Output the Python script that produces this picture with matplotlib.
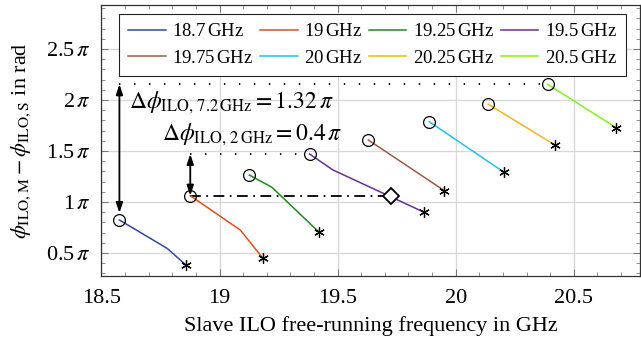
import matplotlib
matplotlib.use("Agg")
import matplotlib.pyplot as plt
from matplotlib.ticker import MultipleLocator, FuncFormatter

plt.rcParams['font.family'] = ['Liberation Serif', 'DejaVu Serif']
plt.rcParams['mathtext.fontset'] = 'stix'

# master ILO frequencies (legend) and colours
labels = ['18.7', '19', '19.25', '19.5', '19.75', '20', '20.25', '20.5']
colors = ['#2f4a9c', '#d9531e', '#1c8c1c', '#6a2c9c',
          '#9c5a46', '#22c1f2', '#f5b21e', '#84f01e']

# slave free-running frequency in GHz / phase difference in units of pi
freq = [
    [18.576, 18.778, 18.858],
    [18.876, 19.088, 19.182],
    [19.126, 19.222, 19.422],
    [19.381, 19.480, 19.867],
    [19.630, 19.952],
    [19.888, 20.205],
    [20.138, 20.420],
    [20.389, 20.680],
]
phase = [
    [0.824, 0.546, 0.382],
    [1.062, 0.725, 0.454],
    [1.265, 1.144, 0.703],
    [1.471, 1.314, 0.899],
    [1.608, 1.111],
    [1.787, 1.291],
    [1.958, 1.559],
    [2.154, 1.728],
]
diamond_x = 19.725

fig = plt.figure(figsize=(6.41, 3.43), dpi=100)
ax = fig.add_axes([0.1583, 0.1953, 0.840, 0.790])

handles = []
for f, p, c, lab in zip(freq, phase, colors, labels):
    h, = ax.plot(f, p, color=c, lw=1.1, label=lab + r'$\,$GHz', zorder=3)
    handles.append(h)
    ax.plot(f[0], p[0], 'o', ms=8.5, mfc='none', mec='black', mew=0.9, zorder=4)
    ax.plot(f[-1], p[-1], marker=(6, 2, 0), ms=7.5, color='black', mew=0.9, zorder=4)

# reference levels
x_blue, y_blue = freq[0][0], phase[0][0]
x_red, y_red = freq[1][0], phase[1][0]
x_pur, y_pur = freq[3][0], phase[3][0]
x_lime, y_lime = freq[7][0], phase[7][0]

ax.plot([x_blue, x_lime], [y_lime, y_lime], color='black', lw=1.3,
        ls=(0, (0.8, 7.5)), zorder=2)
ax.plot([x_red, x_pur], [y_pur, y_pur], color='black', lw=1.3,
        ls=(0, (0.8, 7.5)), zorder=2)
ax.plot([x_red, diamond_x], [y_red, y_red], color='black', lw=1.3,
        ls=(0, (6, 3, 1, 3)), zorder=2)
ax.plot(diamond_x, y_red, 'D', ms=8, mfc='white', mec='black', mew=1.3, zorder=5)

arrow = dict(arrowstyle='<|-|>,head_length=0.6,head_width=0.2', color='black', lw=1.3)
ax.annotate('', xy=(x_blue, y_lime), xytext=(x_blue, y_blue),
            arrowprops=dict(arrow, shrinkA=5, shrinkB=0), zorder=6)
ax.annotate('', xy=(x_red, y_pur), xytext=(x_red, y_red),
            arrowprops=dict(arrow, shrinkA=0, shrinkB=0), zorder=6)

ax.text(18.616, 1.97, r'$\Delta\phi_{\mathrm{ILO,\,7.2\,GHz}} = 1.32\,\pi$',
        fontsize=17, va='center', ha='left')
ax.text(18.756, 1.657, r'$\Delta\phi_{\mathrm{ILO,\,2\,GHz}} = 0.4\,\pi$',
        fontsize=17, va='center', ha='left')

ax.set_xlim(18.5, 20.78)
ax.set_ylim(0.275, 2.93)
ax.xaxis.set_major_locator(MultipleLocator(0.5))
ax.xaxis.set_minor_locator(MultipleLocator(0.1))
ax.yaxis.set_major_locator(MultipleLocator(0.5))
ax.yaxis.set_minor_locator(MultipleLocator(0.1))
ax.xaxis.set_major_formatter(FuncFormatter(lambda v, _: f'{v:g}'))
ax.yaxis.set_major_formatter(FuncFormatter(lambda v, _: f'{v:g}' + r'$\,\pi$'))
ax.tick_params(which='both', direction='in', top=True, right=True,
               color='#666666', labelsize=16)
ax.tick_params(axis='x', which='major', pad=9)
ax.tick_params(axis='y', which='major', pad=8)
ax.tick_params(which='major', length=5, width=0.6)
ax.tick_params(which='minor', length=3, width=0.5)
ax.grid(True, which='major', color='#d9d9d9', lw=1.0)
ax.set_axisbelow(True)
for s in ax.spines.values():
    s.set_color('#333333')
    s.set_linewidth(0.9)

ax.set_xlabel('Slave ILO free-running frequency in GHz', fontsize=16, labelpad=6)
ax.set_ylabel(r'$\phi_{\mathrm{ILO,M}} - \phi_{\mathrm{ILO,S}}$ in rad', fontsize=16,
              labelpad=9)

# legend filled row by row
order = [0, 4, 1, 5, 2, 6, 3, 7]
leg = ax.legend([handles[i] for i in order], [handles[i].get_label() for i in order],
                ncol=4, loc='upper left', bbox_to_anchor=(0.0325, 0.967),
                borderaxespad=0, fontsize=13.5, handlelength=2.0,
                handletextpad=0.35, columnspacing=0.35, fancybox=False,
                framealpha=1, edgecolor='#222222', borderpad=0.5, labelspacing=0.5)
leg.get_frame().set_linewidth(0.8)

fig.savefig('out.png', dpi=100)
